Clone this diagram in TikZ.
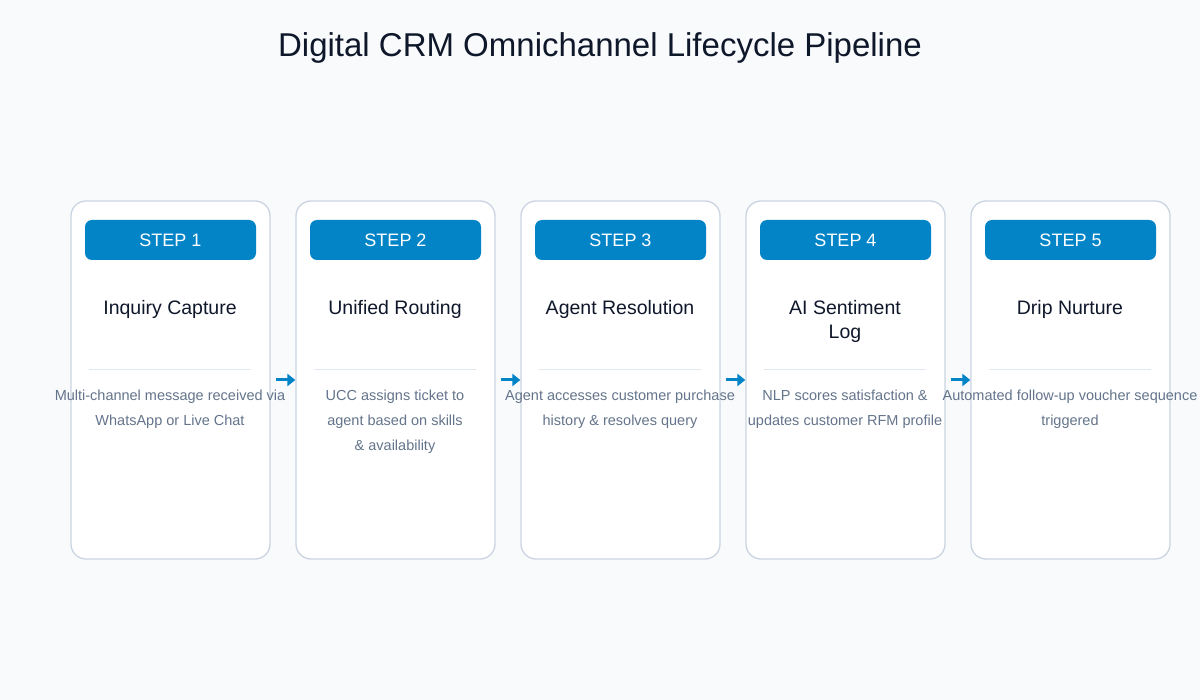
\documentclass[tikz,border=0pt]{standalone}
\usepackage{fontspec}
\setmainfont{Liberation Sans}
\usetikzlibrary{positioning,arrows.meta}
\definecolor{bg}{HTML}{F8FAFC}
\definecolor{cardline}{HTML}{CBD5E1}
\definecolor{stepblue}{HTML}{0284C7}
\definecolor{ink}{HTML}{0F172A}
\definecolor{muted}{HTML}{64748B}
\definecolor{sepline}{HTML}{E2E8F0}
\tikzset{
  card/.style={draw=cardline,line width=1.3pt,fill=white,rounded corners=15pt,
    minimum width=199pt,minimum height=358pt,inner sep=0pt},
  badge/.style={fill=stepblue,rounded corners=7pt,minimum width=171pt,
    minimum height=40pt,inner sep=0pt,text=white,font=\fontsize{18}{20}\selectfont},
  ctitle/.style={text=ink,align=center,font=\fontsize{19.5}{24}\selectfont},
  desc/.style={text=muted,align=center,font=\fontsize{14.5}{25}\selectfont},
  arr/.style={draw=stepblue,line width=3pt,-{Triangle[length=8pt,width=12pt]}}
}
\begin{document}
\begin{tikzpicture}[x=1pt,y=-1pt]
\useasboundingbox[fill=bg] (0,0) rectangle (1200,700);
\node[text=ink,font=\fontsize{33}{36}\selectfont] (title) at (600,48) {Digital CRM Omnichannel Lifecycle Pipeline};
\foreach \i/\t/\d in {
  1/{Inquiry Capture}/{Multi-channel message received via\\WhatsApp or Live Chat},
  2/{Unified Routing}/{UCC assigns ticket to\\agent based on skills\\\& availability},
  3/{Agent Resolution}/{Agent accesses customer purchase\\history \& resolves query},
  4/{AI Sentiment\\Log}/{NLP scores satisfaction \&\\updates customer RFM profile},
  5/{Drip Nurture}/{Automated follow-up voucher sequence\\triggered}}{
  \node[card] (c\i) at ({170.5+225*(\i-1)},380) {};
  \node[badge] (b\i) at ({170.5+225*(\i-1)},240) {STEP \i};
  \node[ctitle,anchor=north] (t\i) at ({170+225*(\i-1)},297) {\t};
  \coordinate (sl\i) at ({89+225*(\i-1)},370);
  \coordinate (sr\i) at ({251+225*(\i-1)},370);
  \draw[sepline,line width=1pt] (sl\i) -- (sr\i);
  \node[desc,anchor=north] (d\i) at ({170+225*(\i-1)},386) {\d};
}
\foreach \i [evaluate=\i as \j using int(\i+1)] in {1,...,4}{
  \coordinate (a\i) at ([xshift=5pt]c\i.east |- 0,380);
  \draw[arr] (a\i) -- (c\j.west |- a\i);
}
\end{tikzpicture}
\end{document}
